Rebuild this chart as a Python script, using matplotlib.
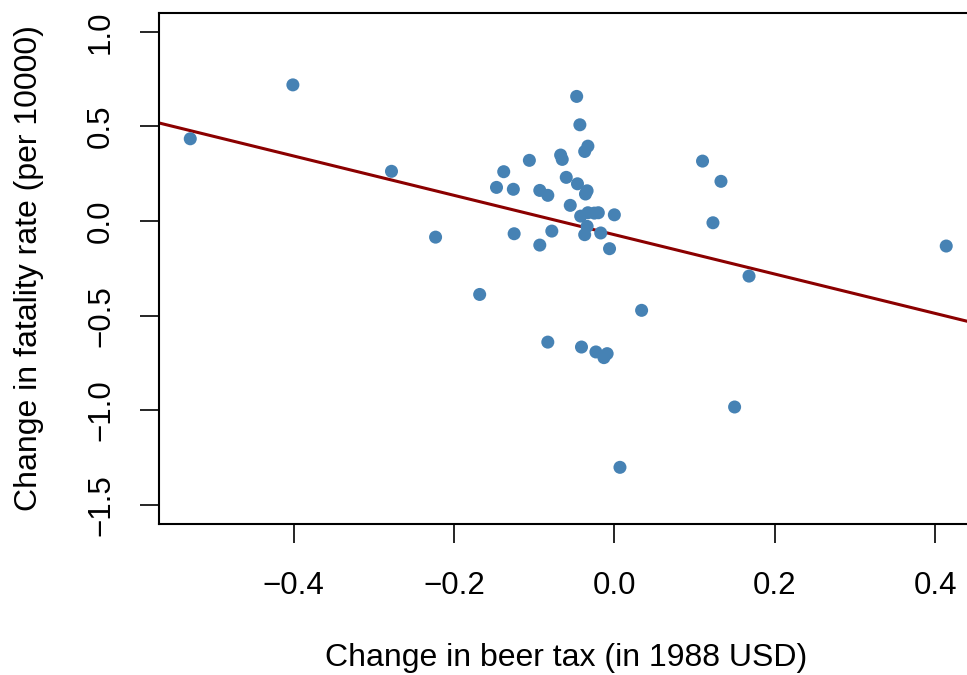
import numpy as np
import matplotlib
matplotlib.use("Agg")
import matplotlib.pyplot as plt

plt.rcParams['font.family'] = ['Liberation Sans', 'DejaVu Sans']

# change in beer tax 1982-1988 and change in fatality rate
beertax_diff = [-0.529, -0.401, -0.278, -0.223, -0.168, -0.147, -0.138, -0.126,
                -0.125, -0.106, -0.093, -0.093, -0.083, -0.083, -0.078, -0.067,
                -0.065, -0.060, -0.055, -0.047, -0.046, -0.043, -0.042, -0.041,
                -0.037, -0.037, -0.036, -0.034, -0.034, -0.033, -0.033, -0.025,
                -0.023, -0.020, -0.017, -0.013, -0.009, -0.006, 0.000, 0.007,
                0.034, 0.110, 0.123, 0.133, 0.150, 0.168, 0.414]
fatal_diff = [0.435, 0.720, 0.263, -0.085, -0.388, 0.178, 0.261, 0.168,
              -0.067, 0.321, 0.162, -0.127, 0.136, -0.640, -0.053, 0.349,
              0.326, 0.231, 0.083, 0.659, 0.197, 0.509, 0.026, -0.666,
              0.368, -0.072, 0.143, 0.160, -0.028, 0.396, 0.044, 0.042,
              -0.692, 0.044, -0.063, -0.722, -0.701, -0.146, 0.033, -1.302,
              -0.472, 0.317, -0.009, 0.210, -0.983, -0.291, -0.132]

# OLS fit shown in the chart
intercept = -0.072
slope = -1.04

fig = plt.figure(figsize=(9.67, 6.75), dpi=100)
ax = fig.add_axes([159 / 967, 1 - 523.7 / 675, (973.5 - 159) / 967, (523.7 - 13) / 675])

ax.scatter(beertax_diff, fatal_diff, s=88, color='steelblue', edgecolors='none', zorder=3)

xlim = (-0.568, 0.448)
xs = np.array(xlim)
ax.plot(xs, intercept + slope * xs, color='darkred', lw=2.2, zorder=2)

ax.set_xlim(*xlim)
ax.set_ylim(-1.6, 1.1)
ax.set_xticks([-0.4, -0.2, 0.0, 0.2, 0.4])
ax.set_xticklabels(['\u22120.4', '\u22120.2', '0.0', '0.2', '0.4'])
ax.set_yticks([-1.5, -1.0, -0.5, 0.0, 0.5, 1.0])
ax.set_yticklabels(['\u22121.5', '\u22121.0', '\u22120.5', '0.0', '0.5', '1.0'],
                   rotation=90, va='center')

ax.tick_params(axis='both', length=14, width=1.2, labelsize=22.5)
ax.tick_params(axis='x', pad=20)
ax.tick_params(axis='y', pad=17)
for sp in ax.spines.values():
    sp.set_linewidth(1.5)

ax.set_xlabel('Change in beer tax (in 1988 USD)', fontsize=23, labelpad=30)
ax.set_ylabel('Change in fatality rate (per 10000)', fontsize=23, labelpad=30)

fig.savefig('out.png', dpi=100)
